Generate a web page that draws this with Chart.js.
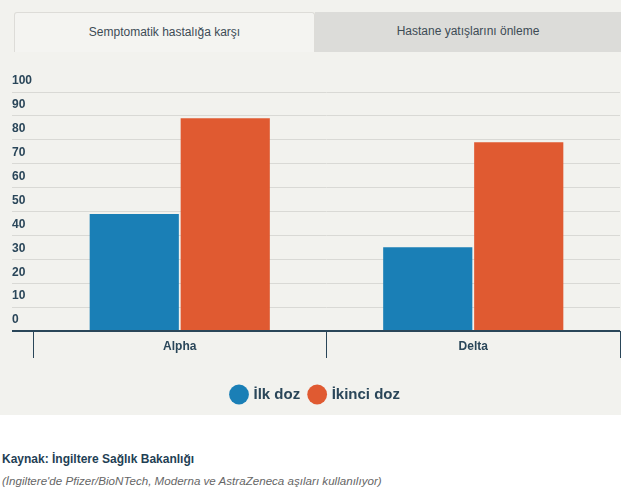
<!DOCTYPE html>
<html>
<head>
<meta charset="utf-8">
<script src="https://cdn.jsdelivr.net/npm/chart.js@4"></script>
<style>
  body { margin: 0; background: #fff; font-family: "Liberation Sans", Arial, sans-serif; }
  #panel { position: absolute; left: 0; top: 0; width: 621px; height: 415px; background: #f2f2ee; }
  .tab { position: absolute; top: 12px; height: 40px; line-height: 38px; text-align: center; font-size: 12px; color: #3d4b55; box-sizing: border-box; }
  #tab1 { left: 14px; width: 301px; background: #f4f4f1; border: 1px solid #dddcd8; border-bottom: none; border-radius: 3px 3px 0 0; }
  #tab2 { left: 315px; width: 306px; background: #dcdcd9; }
  #wrap { position: absolute; left: 0; top: 60px; width: 621px; height: 355px; }
  #src { position: absolute; left: 2px; top: 449px; font-size: 12px; line-height: 21px; }
  #src b { color: #1f3f55; }
  #src i { color: #666; font-size: 11.6px; }
</style>
</head>
<body>
<div id="panel">
  <div class="tab" id="tab1">Semptomatik hastalığa karşı</div>
  <div class="tab" id="tab2">Hastane yatışlarını önleme</div>
  <div id="wrap"><canvas id="chart"></canvas></div>
</div>
<div id="src">
  <b>Kaynak: İngiltere Sağlık Bakanlığı</b><br>
  <i>(İngiltere'de Pfizer/BioNTech, Moderna ve AstraZeneca aşıları kullanılıyor)</i>
</div>
<script>
const categories = ['Alpha', 'Delta'];
const firstDose = [49, 35];
const secondDose = [89, 79];
const seriesNames = ['İlk doz', 'İkinci doz'];

const dark = '#2a4659';
const blue = '#1a7fb6';
const orange = '#e05a31';

new Chart(document.getElementById('chart'), {
  type: 'bar',
  data: {
    labels: categories,
    datasets: [
      { label: seriesNames[0], data: firstDose, backgroundColor: blue },
      { label: seriesNames[1], data: secondDose, backgroundColor: orange }
    ]
  },
  options: {
    responsive: true,
    maintainAspectRatio: false,
    animation: false,
    categoryPercentage: 0.62,
    barPercentage: 0.98,
    layout: { padding: { left: 12, right: 1, top: 32, bottom: 3 } },
    plugins: {
      tooltip: { enabled: false },
      legend: {
        position: 'bottom',
        labels: {
          usePointStyle: true,
          pointStyle: 'circle',
          boxWidth: 14,
          boxHeight: 14,
          padding: 10,
          color: dark,
          font: { family: 'Liberation Sans', size: 15, weight: 'bold' }
        }
      }
    },
    scales: {
      x: {
        afterFit: s => { s.height = 46; },
        border: { display: false },
        grid: { drawOnChartArea: false, color: dark, tickLength: 27 },
        ticks: { color: dark, padding: -19, font: { family: 'Liberation Sans', size: 12, weight: 'bold' } }
      },
      y: {
        min: 0,
        max: 100,
        afterFit: s => { s.width = 21; },
        border: { display: false },
        grid: {
          tickLength: 21,
          color: c => c.tick && c.tick.value === 0 ? dark : '#d9d9d5',
          lineWidth: c => c.tick && c.tick.value === 0 ? 2 : 1
        },
        ticks: {
          stepSize: 10,
          crossAlign: 'far',
          padding: 0,
          labelOffset: -11,
          color: dark,
          font: { family: 'Liberation Sans', size: 12, weight: 'bold' }
        }
      }
    }
  }
});
</script>
</body>
</html>
